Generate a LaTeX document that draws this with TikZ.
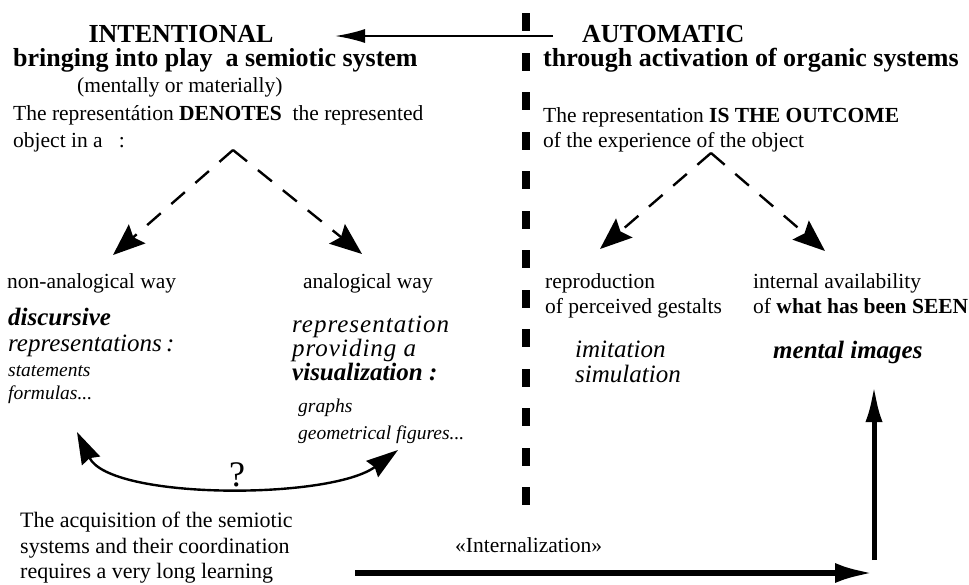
\documentclass[tikz,border=0pt]{standalone}
\usepackage{fontspec}
\setmainfont{Liberation Serif}
\newfontfamily\spacedfont[LetterSpace=4]{Liberation Serif}
\usetikzlibrary{arrows.meta,positioning,calc}

\begin{document}
\begin{tikzpicture}[x=1pt,y=-1pt,
  every node/.style={inner sep=0pt, anchor=base west},
  headtxt/.style={font=\fontsize{26}{30}\selectfont\bfseries},
  bodytxt/.style={font=\fontsize{21.5}{25}\selectfont},
  itltxt/.style={font=\fontsize{25}{29}\selectfont\itshape},
  spacedtxt/.style={font=\fontsize{25}{29}\selectfont\spacedfont\itshape},
  bitltxt/.style={font=\fontsize{25}{29}\selectfont\bfseries\itshape},
  smallit/.style={font=\fontsize{19.5}{23}\selectfont\itshape},
  toparrow/.style={line width=2.2pt, -{Latex[length=30pt,width=14pt]}},
  dasharrow/.style={line width=2.4pt, dash pattern=on 18pt off 14pt,
    -{Stealth[length=32pt,width=25pt,inset=5pt]}},
  curvearrow/.style={line width=2.4pt,
    {Stealth[length=32pt,width=20pt,inset=3pt]}-{Stealth[length=32pt,width=20pt,inset=3pt]}},
  bigarrow/.style={line width=5.5pt, -{Latex[length=38pt,width=20pt]}}]

  \fill[white] (0,0) rectangle (969,584);
  \useasboundingbox (0,0) rectangle (969,584);

  % the thick dashed separator
  \foreach \k in {0,...,12}
    \fill (522,13+39.5*\k) rectangle +(8,18);

  % left column
  \node[headtxt, anchor=base] (intent) at (181,42) {INTENTIONAL};
  \node[headtxt] (bring) at (13,66) {bringing into play\ \ a semiotic system};
  \node[bodytxt] (matl) at (77,92) {(mentally or materially)};
  \node[bodytxt] (denote) at (13,120) {The representátion \textbf{DENOTES}\ \ the represented};
  \node[bodytxt] (objin) at (13,147) {object in a\ \ \ :};

  \node[bodytxt] (nonana) at (7,288) {non-analogical way};
  \node[bitltxt] (discur) at (8,325) {discursive};
  \node[itltxt] (reps) at (8,351) {representations\,:};
  \node[smallit] (stmt) at (8,376) {statements};
  \node[smallit] (form) at (8,399) {formulas...};

  \node[bodytxt] (ana) at (303,288) {analogical way};
  \node[spacedtxt] (repr) at (292,332) {representation};
  \node[spacedtxt] (provid) at (292,356) {providing a};
  \node[bitltxt] (visu) at (292,380) {visualization :};
  \node[smallit] (graphs) at (298,412) {graphs};
  \node[smallit] (geom) at (298,439) {geometrical figures...};

  \node[font=\fontsize{36}{36}\selectfont, anchor=base] (quest) at (237,486) {?};

  \node[bodytxt, font=\fontsize{22}{26}\selectfont] (acq1) at (20,527) {The acquisition of the semiotic};
  \node[bodytxt, font=\fontsize{22}{26}\selectfont] (acq2) at (20,553) {systems and their coordination};
  \node[bodytxt, font=\fontsize{22}{26}\selectfont] (acq3) at (20,578) {requires a very long learning};

  % right column
  \node[headtxt] (auto) at (582,42) {AUTOMATIC};
  \node[headtxt] (organic) at (543,66) {through activation of organic systems};
  \node[bodytxt] (outcome) at (543,122) {The representation \textbf{IS THE OUTCOME}};
  \node[bodytxt] (exper) at (543,147) {of the experience of the object};

  \node[bodytxt] (reprod) at (545,288) {reproduction};
  \node[bodytxt] (gestalt) at (545,313) {of perceived gestalts};
  \node[bodytxt] (avail) at (753,288) {internal availability};
  \node[bodytxt] (seen) at (753,313) {of \textbf{what has been SEEN}};
  \node[itltxt] (imit) at (575,357) {imitation};
  \node[itltxt] (simul) at (575,382) {simulation};
  \node[bitltxt] (mimg) at (773,358) {mental images};

  \node[bodytxt] (intern) at (455,552) {«Internalization»};

  % connectors
  \coordinate (arrstart) at (553,36);
  \coordinate (arrend) at (335,36);
  \draw[toparrow] (arrstart) -- (arrend);

  \coordinate (ltop) at (233,150);
  \coordinate (lleft) at (113,255);
  \coordinate (lright) at (362,254);
  \draw[dasharrow] (ltop) -- (lleft);
  \draw[dasharrow] (ltop) -- (lright);

  \coordinate (rtop) at (711,153);
  \coordinate (rleft) at (600,249);
  \coordinate (rright) at (825,251);
  \draw[dasharrow] (rtop) -- (rleft);
  \draw[dasharrow] (rtop) -- (rright);

  \coordinate (cl) at (77,432);
  \coordinate (cr) at (398,450);
  \draw[curvearrow] (cl) .. controls (110,500) and (330,500) .. (cr);

  \coordinate (hl) at (355,573);
  \coordinate (hr) at (873,573);
  \draw[bigarrow] (hl) -- (hr);
  \coordinate (vbot) at (874,560);
  \coordinate (vtop) at (874,385);
  \draw[bigarrow, line width=5pt, -{Latex[length=37pt,width=17pt]}] (vbot) -- (vtop);
\end{tikzpicture}
\end{document}
